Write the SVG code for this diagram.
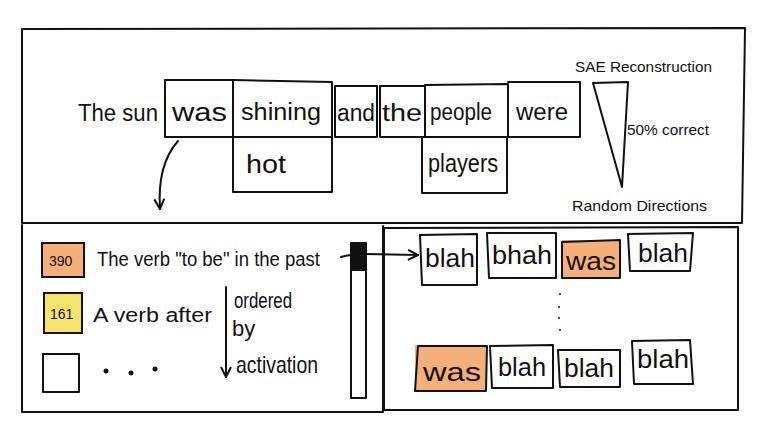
<svg xmlns="http://www.w3.org/2000/svg" width="764" height="422" viewBox="0 0 764 422">
<style>
.f{fill:none;stroke:#111;stroke-width:2;stroke-linecap:round;stroke-linejoin:round}
.t{font-family:"Liberation Sans",Arial,sans-serif;fill:#111}
.s{font-size:14px}
.m{font-size:23px}
.b{font-size:20px}
.w{font-size:25px}
</style>
<defs>
<marker id="v" viewBox="0 0 12 12" refX="11" refY="6" markerWidth="12" markerHeight="12" markerUnits="userSpaceOnUse" orient="auto">
<path d="M1,1 L11,6 L1,11" fill="none" stroke="#111" stroke-width="2"/>
</marker>
</defs>
<rect width="764" height="422" fill="#fff"/>
<g id="frames">
<path class="f" d="M22,29 L745,28 L742,223 L22,223 Z"/>
<path class="f" d="M22,225 L22,412 L383,412 L383,226"/>
<path class="f" d="M384,228 L738,227 L738,410 L384,410 Z"/>
</g>
<g id="sentence">
<text class="t m" x="78" y="121" textLength="80" lengthAdjust="spacingAndGlyphs">The sun</text>
<g id="w-was"><path class="f" d="M165,80 L233,80 L233,137 L165,137 Z"/><text class="t w" x="172" y="121" textLength="55" lengthAdjust="spacingAndGlyphs">was</text></g>
<g id="w-shining"><path class="f" d="M233,80 L332,82 L332,137 L233,137"/><text class="t m" x="241" y="120" textLength="80" lengthAdjust="spacingAndGlyphs">shining</text></g>
<g id="w-hot"><path class="f" d="M233,137 L233,192 L332,192 L332,137"/><text class="t w" x="246" y="173" textLength="40" lengthAdjust="spacingAndGlyphs">hot</text></g>
<g id="w-and"><path class="f" d="M335,86 L377,86 L377,137 L335,137 Z"/><text class="t m" x="337" y="121" textLength="38" lengthAdjust="spacingAndGlyphs">and</text></g>
<g id="w-the"><path class="f" d="M380,86 L425,86 L425,137 L380,137 Z"/><text class="t m" x="382" y="121" textLength="40" lengthAdjust="spacingAndGlyphs">the</text></g>
<g id="w-people"><path class="f" d="M425,85 L508,84 L508,137 L425,137"/><text class="t m" x="430" y="120" textLength="62" lengthAdjust="spacingAndGlyphs">people</text></g>
<g id="w-players"><path class="f" d="M422,137 L422,193 L507,193 L507,137"/><text class="t w" x="428" y="172" textLength="70" lengthAdjust="spacingAndGlyphs">players</text></g>
<g id="w-were"><path class="f" d="M508,82 L580,82 L580,137 L508,137"/><text class="t m" x="516" y="120" textLength="52" lengthAdjust="spacingAndGlyphs">were</text></g>
</g>
<g id="gauge">
<path class="f" d="M593,83 L628,82 L622,187 Z"/>
<text class="t s" x="575" y="72" textLength="137" lengthAdjust="spacingAndGlyphs">SAE Reconstruction</text>
<text class="t s" x="627" y="135" textLength="82" lengthAdjust="spacingAndGlyphs">50% correct</text>
<text class="t s" x="572" y="211" textLength="135" lengthAdjust="spacingAndGlyphs">Random Directions</text>
</g>
<g id="features">
<g id="f390"><rect x="42" y="243" width="42" height="34" fill="#f5b07a" stroke="#111" stroke-width="2"/><text class="t" x="49" y="266" font-size="14">390</text></g>
<text class="t b" x="97" y="266" textLength="223" lengthAdjust="spacingAndGlyphs">The verb "to be" in the past</text>
<g id="f161"><rect x="44" y="293" width="38" height="40" fill="#f8e36a" stroke="#111" stroke-width="2"/><text class="t" x="50" y="319" font-size="14">161</text></g>
<text class="t b" x="93" y="322" textLength="119" lengthAdjust="spacingAndGlyphs">A verb after</text>
<rect x="43" y="354" width="36" height="38" class="f"/>
<g fill="#111"><circle cx="106" cy="371" r="2.5"/><circle cx="131" cy="373" r="2.5"/><circle cx="155" cy="369" r="2.5"/></g>
<text class="t" x="234" y="308" font-size="22" textLength="58" lengthAdjust="spacingAndGlyphs">ordered</text>
<text class="t" x="232" y="336" font-size="22">by</text>
<text class="t" x="236" y="373" font-size="24" textLength="82" lengthAdjust="spacingAndGlyphs">activation</text>
</g>
<g id="slider">
<rect x="351" y="243" width="15" height="155" class="f"/>
<rect x="352" y="244" width="13" height="27" fill="#111"/>
</g>
<g id="tokens">
<g><path class="f" d="M420,235 L477,234 L477,285 L422,285 Z"/><text class="t w" x="425" y="267" textLength="50" lengthAdjust="spacingAndGlyphs">blah</text></g>
<g><path class="f" d="M487,233 L556,233 L556,278 L489,278 Z"/><text class="t w" x="492" y="264" textLength="60" lengthAdjust="spacingAndGlyphs">bhah</text></g>
<g><rect x="562" y="240" width="58" height="38" fill="#f5b07a"/><path class="f" d="M562,242 L620,240 L620,278 L562,278 Z"/><text class="t w" x="566" y="270" textLength="50" lengthAdjust="spacingAndGlyphs">was</text></g>
<g><path class="f" d="M628,234 L693,233 L690,271 L630,271 Z"/><text class="t w" x="638" y="262" textLength="50" lengthAdjust="spacingAndGlyphs">blah</text></g>
<g><rect x="415" y="345" width="72" height="46" fill="#f5b07a"/><path class="f" d="M418,346 L487,346 L486,391 L415,391 Z"/><text class="t w" x="423" y="381" textLength="58" lengthAdjust="spacingAndGlyphs">was</text></g>
<g><path class="f" d="M490,346 L553,345 L553,388 L492,388 Z"/><text class="t w" x="498" y="376" textLength="48" lengthAdjust="spacingAndGlyphs">blah</text></g>
<g><path class="f" d="M558,350 L620,350 L620,387 L560,387 Z"/><text class="t w" x="564" y="377" textLength="50" lengthAdjust="spacingAndGlyphs">blah</text></g>
<g><path class="f" d="M632,341 L690,340 L693,384 L634,384 Z"/><text class="t w" x="637" y="368" textLength="52" lengthAdjust="spacingAndGlyphs">blah</text></g>
<g fill="#111"><circle cx="560" cy="294" r="1"/><circle cx="559" cy="307" r="1"/><circle cx="559" cy="318" r="1"/><circle cx="560" cy="330" r="1"/></g>
</g>
<g id="connectors">
<path class="f" d="M178,141 C163,158 158,180 160,209" marker-end="url(#v)"/>
<path class="f" d="M226,287 L226,377" marker-end="url(#v)"/>
<path class="f" d="M341,257 C350,254 360,254 366,254 L418,255" marker-end="url(#v)"/>
</g>
</svg>
